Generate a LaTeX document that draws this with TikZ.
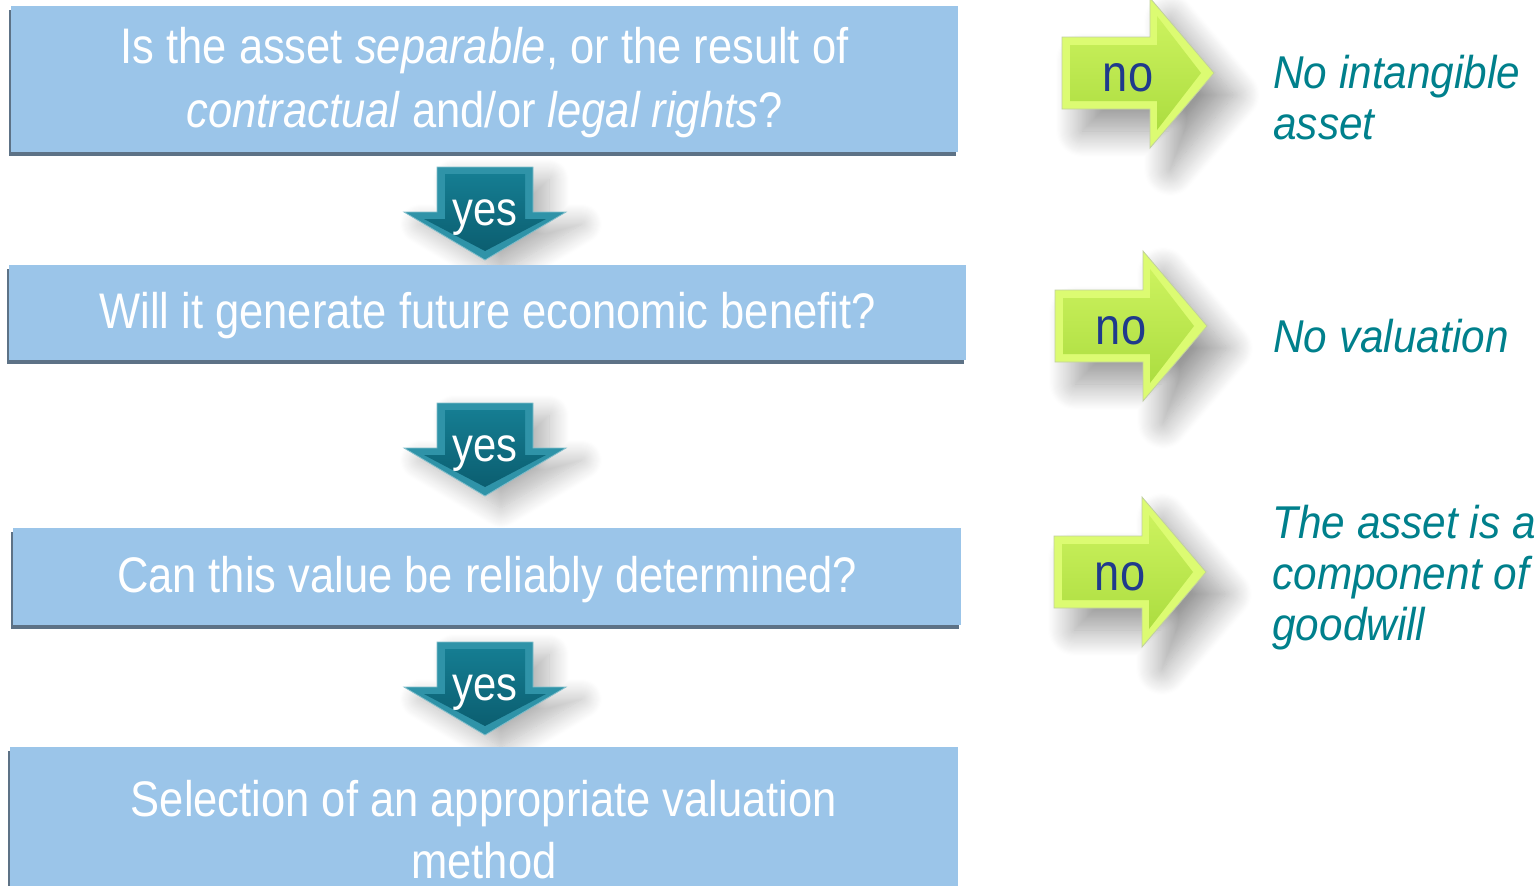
\documentclass[tikz,border=0pt]{standalone}
\usepackage{fontspec}
\usetikzlibrary{shadows,shadows.blur}
\newfontfamily\boxfont[FakeStretch=0.87]{Liberation Sans}
\newfontfamily\notefont[FakeStretch=0.92]{Liberation Sans}
\definecolor{boxblue}{HTML}{9BC5E9}
\definecolor{boxedge}{HTML}{5D7286}
\definecolor{tealhi}{HTML}{2F93A8}
\definecolor{tealtop}{HTML}{157D92}
\definecolor{tealbot}{HTML}{0B5E70}
\definecolor{limehi}{HTML}{DCFB72}
\definecolor{limetop}{HTML}{CCF25E}
\definecolor{limebot}{HTML}{ACDD40}
\definecolor{navy}{HTML}{1F3A8C}
\definecolor{outteal}{HTML}{00808C}
\begin{document}
\begin{tikzpicture}[x=0.5pt,y=-0.5pt,
  question/.style={fill=boxblue,text=white,inner sep=0pt,align=center,
    font=\boxfont\fontsize{25}{31}\selectfont,
    general shadow={fill=boxedge,shadow xshift=-1pt,shadow yshift=-2pt}},
  yesarrow/.style={fill=tealhi,draw=tealhi!60!white,line width=0.4pt,
    blur shadow={shadow xshift=8pt,shadow yshift=-6pt,shadow blur radius=10pt,
      shadow blur steps=20,shadow opacity=30}},
  yesface/.style={top color=tealtop,bottom color=tealbot},
  yeslabel/.style={anchor=base,text=white,inner sep=0pt,font=\boxfont\fontsize{24}{28}\selectfont},
  noarrow/.style={fill=limehi,draw=limebot!50!gray!60,line width=0.4pt,
    blur shadow={shadow xshift=10pt,shadow yshift=-11pt,shadow blur radius=13pt,
      shadow blur steps=24,shadow opacity=40}},
  noface/.style={top color=limetop,bottom color=limebot},
  nolabel/.style={text=navy,inner sep=0pt,font=\boxfont\fontsize{26}{30}\selectfont},
  outcome/.style={anchor=base west,align=left,text=outteal,inner sep=0pt,
    font=\notefont\itshape\fontsize{23}{25.5}\selectfont}]
\clip (0,0) rectangle (1540,885); % --- page size of the reference
%----- yes arrows going down, drawn first so the boxes hide their shadows
\foreach \t/\n in {167/yes1,403/yes2,642/yes3}{
\path[yesarrow] (437,\t) -- (533,\t) -- (533,\t+45) -- (566,\t+45) -- (485,\t+93)
  -- (404,\t+45) -- (437,\t+45) -- cycle;
\path[yesface] (445,\t+7) -- (525,\t+7) -- (525,\t+52) -- (546,\t+52) -- (485,\t+84)
  -- (424,\t+52) -- (445,\t+52) -- cycle;
\node[yeslabel] (\n) at (485,\t+58) {yes};
}
% --- question boxes (the struts push the text down a little)
\node[question,minimum width=473.5pt,minimum height=73pt,
  font=\boxfont\fontsize{25}{32}\selectfont] (q1) at (484.5,79)
  {\rule{0pt}{22pt}Is the asset \textit{separable}, or the result of\\ \textit{contractual} and/or \textit{legal rights}?};
\node[question,minimum width=478.5pt,minimum height=47.5pt] (q2) at (487.5,312.5)
  {\rule{0pt}{21pt}Will it generate future economic benefit?};
\node[question,minimum width=474pt,minimum height=48.5pt] (q3) at (487,576.5)
  {\rule{0pt}{21pt}Can this value be reliably determined?};
\node[question,minimum width=474pt,minimum height=83pt] (q4) at (484,830)
  {Selection of an appropriate valuation\\method};
%----- no arrows going right
\foreach \l/\c/\n in {1062/73/no1,1055/326/no2,1054/572/no3}{
\path[noarrow] (\l,\c-36) -- (\l+88,\c-36) -- (\l+88,\c-75) -- (\l+152,\c)
  -- (\l+88,\c+75) -- (\l+88,\c+36) -- (\l,\c+36) -- cycle;
\path[noface] (\l+8,\c-28) -- (\l+95,\c-28) -- (\l+95,\c-57) -- (\l+139,\c)
  -- (\l+95,\c+57) -- (\l+95,\c+28) -- (\l+8,\c+28) -- cycle;
\node[nolabel] (\n) at (\l+66,\c+5) {no};
}
% --- outcomes (placed by the baseline of their last line)
\node[outcome] (noasset) at (1273,139) {No intangible\\asset};
\node[outcome] (noval) at (1273,352) {No valuation};
\node[outcome] (goodwill) at (1272,640) {The asset is a\\component of\\goodwill};
\end{tikzpicture}
\end{document}
